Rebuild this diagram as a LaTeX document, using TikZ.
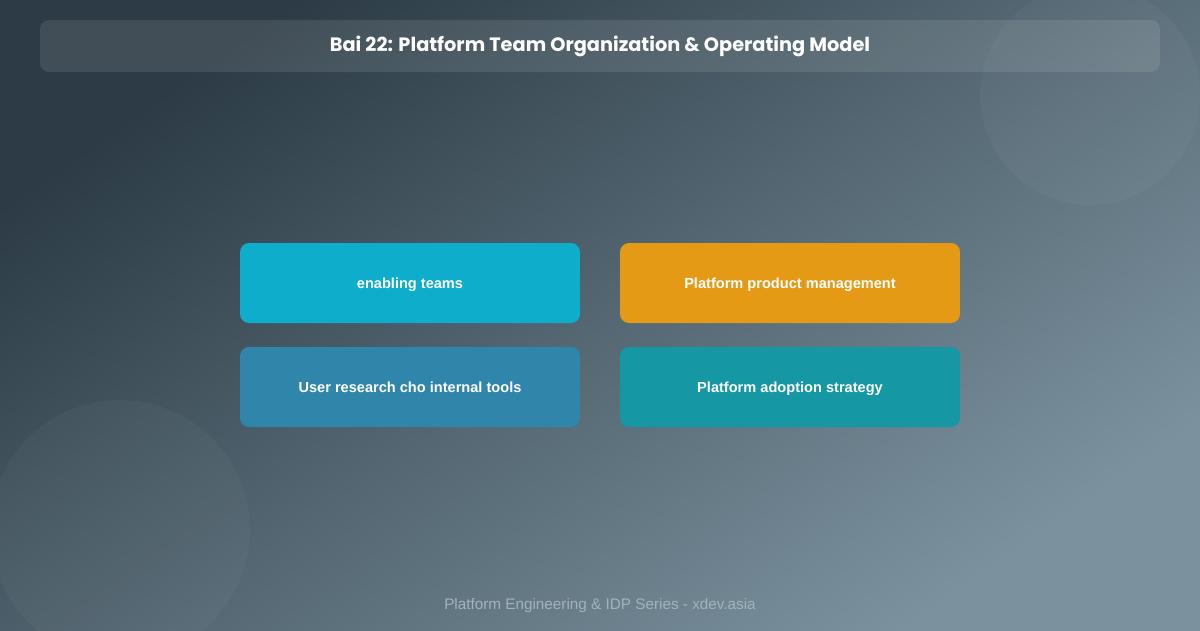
\documentclass[tikz,border=0pt]{standalone}
\usepackage{fontspec}
\setmainfont{Liberation Sans}
\newfontfamily\titlefont{Poppins}
\usepackage{tikz}
\definecolor{bgdark}{HTML}{2c3b45}
\definecolor{bglight}{HTML}{7b929e}
\definecolor{cyan5}{HTML}{0eadcb}
\definecolor{amber5}{HTML}{e59a15}
\definecolor{blue5}{HTML}{2f86aa}
\definecolor{teal5}{HTML}{1697a4}
\definecolor{footgray}{HTML}{a3b3bb}

\begin{document}
\begin{tikzpicture}[x=0.02cm, y=-0.02cm,
  card/.style={rounded corners=0.18cm, minimum width=6.8cm, minimum height=1.6cm,
    text height=7pt, text depth=0.5pt,
    text=white, font=\fontsize{8.3}{10}\selectfont\bfseries, inner sep=0pt}]
\useasboundingbox (0,0) rectangle (1200,630);
\shade[top color=bgdark, bottom color=bglight, shading angle=35] (0,0) rectangle (1200,630);
\fill[white, opacity=0.03] (1090,95) circle (2.2cm);
\fill[white, opacity=0.03] (120,530) circle (2.6cm);
% title bar
\fill[white, opacity=0.1, rounded corners=0.18cm] (40,20) rectangle (1160,72);
\node[text=white, font=\titlefont\fontsize{11}{13}\selectfont\bfseries] (title) at (600,46)
  {Bai 22: Platform Team Organization \& Operating Model};
% cards
\node[card, fill=cyan5] (enabling) at (410,283) {enabling teams};
\node[card, fill=amber5] (product) at (790,283) {Platform product management};
\node[card, fill=blue5] (research) at (410,387) {User research cho internal tools};
\node[card, fill=teal5] (adoption) at (790,387) {Platform adoption strategy};
% footer
\node[text=footgray, font=\fontsize{8.7}{10}\selectfont] (footer) at (600,606)
  {Platform Engineering \& IDP Series - xdev.asia};
\end{tikzpicture}
\end{document}
